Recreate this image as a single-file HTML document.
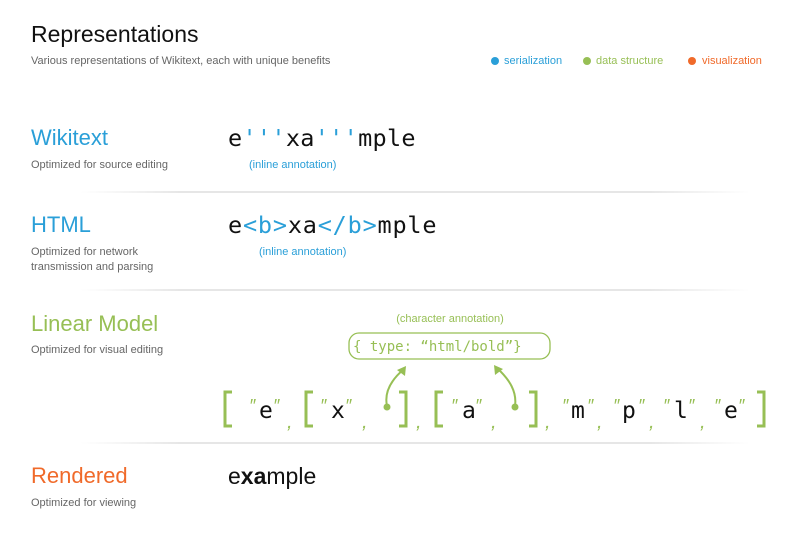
<!DOCTYPE html>
<html><head><meta charset="utf-8"><style>
html,body{margin:0;padding:0;background:#fff;width:800px;height:534px;overflow:hidden}
svg{display:block}
.s{font-family:"Liberation Sans","DejaVu Sans",sans-serif}
.m{font-family:"DejaVu Sans Mono","Liberation Mono",monospace}
</style></head><body>
<svg width="800" height="534" viewBox="0 0 800 534" xmlns="http://www.w3.org/2000/svg">
<defs>
<linearGradient id="g" x1="0" x2="1"><stop offset="0" stop-color="#e8e8e8" stop-opacity="0"/><stop offset=".15" stop-color="#e6e6e6"/><stop offset=".85" stop-color="#e6e6e6"/><stop offset="1" stop-color="#e8e8e8" stop-opacity="0"/></linearGradient>
</defs>
<g class="s">
<text x="31" y="42" font-size="23" fill="#111">Representations</text>
<text x="31" y="64" font-size="11" fill="#666">Various representations of Wikitext, each with unique benefits</text>
<circle cx="495" cy="61" r="4" fill="#2a9fd8"/><text x="504" y="64" font-size="11" fill="#2a9fd8">serialization</text>
<circle cx="587" cy="61" r="4" fill="#97bf55"/><text x="596" y="64" font-size="11" fill="#97bf55">data structure</text>
<circle cx="692" cy="61" r="4" fill="#f06a2a"/><text x="702" y="64" font-size="11" fill="#f06a2a">visualization</text>

<text x="31" y="145" font-size="22" fill="#2a9fd8">Wikitext</text>
<text x="31" y="168" font-size="11" fill="#666">Optimized for source editing</text>
<text x="249" y="168" font-size="11" fill="#2a9fd8">(inline annotation)</text>

<text x="31" y="232" font-size="22" fill="#2a9fd8">HTML</text>
<text x="31" y="255" font-size="11" fill="#666">Optimized for network</text>
<text x="31" y="270" font-size="11" fill="#666">transmission and parsing</text>
<text x="259" y="255" font-size="11" fill="#2a9fd8">(inline annotation)</text>

<text x="31" y="331" font-size="22" fill="#97bf55">Linear Model</text>
<text x="31" y="353" font-size="11" fill="#666">Optimized for visual editing</text>
<text x="450" y="322" font-size="11" fill="#97bf55" text-anchor="middle">(character annotation)</text>

<text x="31" y="483" font-size="22" fill="#f06a2a">Rendered</text>
<text x="31" y="506" font-size="11" fill="#666">Optimized for viewing</text>
<text x="228" y="484" font-size="23" fill="#111">e<tspan font-weight="bold">xa</tspan>mple</text>
</g>

<rect x="80" y="191" width="670" height="2" fill="url(#g)"/>
<rect x="80" y="289" width="670" height="2" fill="url(#g)"/>
<rect x="80" y="442" width="670" height="2" fill="url(#g)"/>

<g class="m" font-size="23.5">
<text x="228" y="146" fill="#111" letter-spacing="0.3">e<tspan fill="#2a9fd8">'''</tspan>xa<tspan fill="#2a9fd8">'''</tspan>mple</text>
<text x="228" y="233" fill="#111" letter-spacing="0.8">e<tspan fill="#2a9fd8">&lt;b&gt;</tspan>xa<tspan fill="#2a9fd8">&lt;/b&gt;</tspan>mple</text>
</g>

<rect x="349" y="333" width="201" height="26" rx="10" fill="none" stroke="#97bf55" stroke-width="1.3"/>
<text x="353" y="351" class="m" font-size="14" fill="#97bf55">{ type: “html/bold”}</text>

<g fill="none" stroke="#97bf55" stroke-width="3">
<path d="M232 392 H225 V426 H232"/>
<path d="M313 392 H306 V426 H313"/>
<path d="M399 392 H406 V426 H399"/>
<path d="M443 392 H436 V426 H443"/>
<path d="M529 392 H536 V426 H529"/>
<path d="M757 392 H764 V426 H757"/>
</g>
<g fill="none" stroke="#97bf55" stroke-width="2">
<path d="M387 406 C384 392 391 380 404 369"/>
<path d="M515 406 C517 392 510 380 497 368"/>
</g>
<path d="M406 366 L397 370 L405 376 Z" fill="#97bf55"/>
<path d="M494 365 L503 369 L495 375 Z" fill="#97bf55"/>
<circle cx="387" cy="407" r="3.5" fill="#97bf55"/>
<circle cx="515" cy="407" r="3.5" fill="#97bf55"/>

<g class="m" font-size="23" fill="#111">
<text x="259" y="418">e</text>
<text x="331" y="418">x</text>
<text x="462" y="418">a</text>
<text x="571" y="418">m</text>
<text x="622" y="418">p</text>
<text x="674" y="418">l</text>
<text x="724" y="418">e</text>
</g>
<g class="s" font-size="18" fill="#97bf55" font-style="italic">
<text x="249" y="412">″</text><text x="273" y="412">″</text>
<text x="320" y="412">″</text><text x="345" y="412">″</text>
<text x="451" y="412">″</text><text x="475" y="412">″</text>
<text x="562" y="412">″</text><text x="587" y="412">″</text>
<text x="613" y="412">″</text><text x="638" y="412">″</text>
<text x="663" y="412">″</text><text x="688" y="412">″</text>
<text x="714" y="412">″</text><text x="738" y="412">″</text>
<text x="287" y="428" font-size="20">,</text>
<text x="362" y="428" font-size="20">,</text>
<text x="416" y="428" font-size="20">,</text>
<text x="491" y="428" font-size="20">,</text>
<text x="545" y="428" font-size="20">,</text>
<text x="597" y="428" font-size="20">,</text>
<text x="649" y="428" font-size="20">,</text>
<text x="700" y="428" font-size="20">,</text>
</g>
</svg>
</body></html>
